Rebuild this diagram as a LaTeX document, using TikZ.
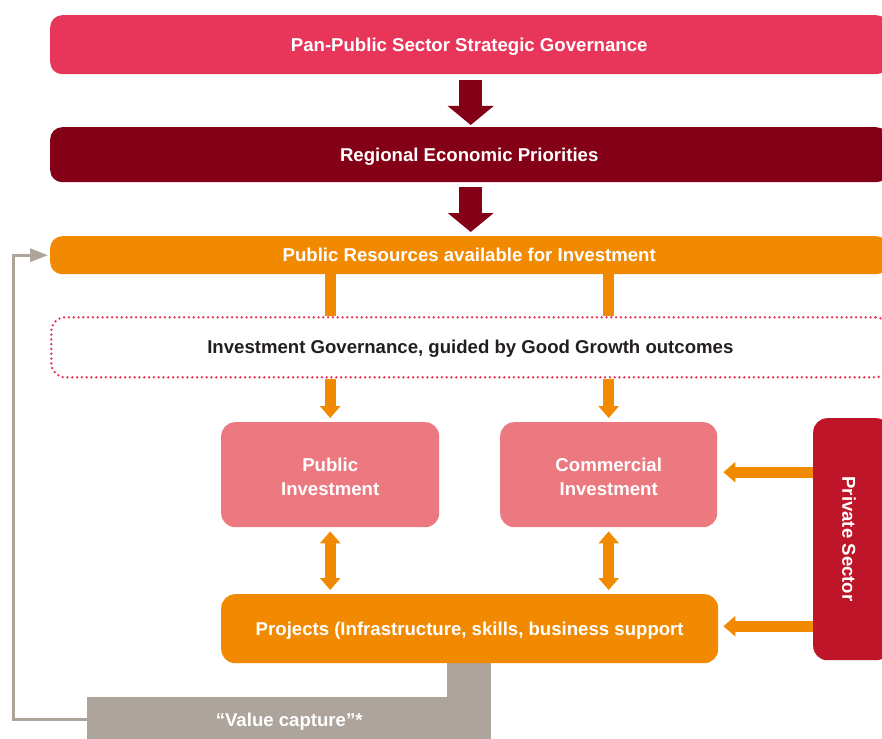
\documentclass[tikz,border=0pt]{standalone}
\usepackage{fontspec}
\setmainfont{Liberation Sans}
\usetikzlibrary{arrows.meta}
\definecolor{topred}{RGB}{232,54,91}
\definecolor{darkred}{RGB}{131,0,22}
\definecolor{orng}{RGB}{241,138,0}
\definecolor{pinkbox}{RGB}{236,121,128}
\definecolor{psred}{RGB}{190,22,40}
\definecolor{greyc}{RGB}{173,165,155}
\definecolor{dotred}{RGB}{228,50,85}
\definecolor{darktext}{RGB}{35,31,32}
\begin{document}
\begin{tikzpicture}[x=1pt,y=-1pt,
  lbl/.style={font=\bfseries\fontsize{18.6}{24}\selectfont, text=white, align=center},
  oneline/.style={text height=13.3pt, text depth=0pt},
  boxbase/.style={lbl, inner sep=0pt, anchor=north west},
  bar/.style={boxbase, oneline, rounded corners=12pt, minimum width=838pt},
  pbox/.style={boxbase, fill=pinkbox, rounded corners=14pt, minimum width=218pt, minimum height=105pt, text height=41.8pt, text depth=0pt},
  darkarrow/.style={darkred, line width=23pt, -{Triangle[width=45pt,length=19pt]}},
  oline/.style={orng, line width=11pt},
  oarrow/.style={orng, line width=11pt, -{Triangle[width=20pt,length=12pt]}},
  odbl/.style={orng, line width=11pt, {Triangle[width=20pt,length=12pt]}-{Triangle[width=20pt,length=12pt]}},
  garrow/.style={greyc, line width=3pt, -{Triangle[width=13pt,length=18pt]}}
]
\useasboundingbox (0,0) rectangle (882,738);
\clip (0,0) rectangle (882,738);
\fill[white] (0,0) rectangle (882,738);

\node[bar, fill=topred, minimum height=59pt] (gov1) at (50,15) {Pan-Public Sector Strategic Governance};
\node[bar, fill=darkred, minimum height=55pt] (reg) at (50,127) {Regional Economic Priorities};
\node[bar, fill=orng, minimum height=38pt] (res) at (50,236) {Public Resources available for Investment};
\node[bar, minimum height=60pt, rounded corners=14pt, draw=dotred, line width=2.6pt, line cap=round, dash pattern=on 0pt off 4.8pt, text=darktext] (gov) at (50,316) {Investment Governance, guided by Good Growth outcomes};

\node[pbox] (pub) at (221,422) {Public\\Investment};
\node[pbox, minimum width=217pt] (com) at (500,422) {Commercial\\Investment};
\node[boxbase, fill=psred, rounded corners=14pt, minimum width=77pt, minimum height=242pt] (ps) at (813,418) {};
\node[lbl, rotate=-90] (pstext) at (849,539) {Private Sector};

\fill[greyc] (447,660) rectangle (491,698);
\node[boxbase, oneline, fill=orng, rounded corners=14pt, minimum width=497pt, minimum height=69pt] (proj) at (221,594) {Projects (Infrastructure, skills, business support};
\node[boxbase, oneline, fill=greyc, minimum width=404pt, minimum height=45pt] (vc) at (87,697) {“Value capture”*};

\draw[darkarrow, shorten <=6pt, shorten >=2pt] ([xshift=1.5pt]gov1.south) -- ([xshift=1.5pt]reg.north);
\draw[darkarrow, shorten <=5pt, shorten >=4pt] ([xshift=1.5pt]reg.south) -- ([xshift=1.5pt]res.north);

\draw[oline] (res.south -| pub.north) -- (gov.north -| pub.north);
\draw[oline] (res.south -| com.north) -- (gov.north -| com.north);
\draw[oarrow, shorten >=4pt] (gov.south -| pub.north) -- (pub.north);
\draw[oarrow, shorten >=4pt] (gov.south -| com.north) -- (com.north);
\draw[odbl, shorten <=4pt, shorten >=4pt] (pub.south) -- (pub.south |- proj.north);
\draw[odbl, shorten <=4pt, shorten >=4pt] (com.south) -- (com.south |- proj.north);
\draw[oarrow, shorten >=6pt] ([yshift=2.5pt]com.east -| ps.west) -- ([yshift=2.5pt]com.east);
\draw[oarrow, shorten >=5pt] ([yshift=2.5pt]proj.east -| ps.west) -- ([yshift=2.5pt]proj.east);

\draw[garrow, shorten >=2pt] (vc.west) -- ++(-74,0) |- (res.west);
\end{tikzpicture}
\end{document}
